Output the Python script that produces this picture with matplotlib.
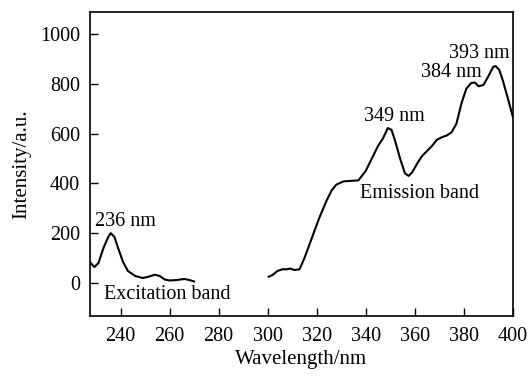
import numpy as np
import matplotlib.pyplot as plt

plt.rcParams['font.family'] = ['Liberation Serif', 'DejaVu Serif']

# --- Excitation band ---
ex_wl = [227.5, 229.3, 231, 233, 235, 236, 237.5, 239, 241, 243, 246, 249, 251, 254, 256, 258, 260, 263, 266, 268, 270]
ex_int = [84, 64, 80, 140, 185, 200, 185, 140, 85, 48, 28, 20, 24, 33, 28, 14, 10, 12, 16, 12, 6]

# --- Emission band ---
em_wl = [300.4, 302, 304, 306, 308, 309, 311, 313, 315, 318, 321, 324, 326, 328, 331, 334, 337, 340, 343,
         345, 347, 349, 350.5, 352, 354, 356, 357.5, 359, 361, 363, 365, 367, 369, 371, 373, 375, 377,
         379, 381, 383, 384.5, 386, 388, 390, 392, 393, 394.5, 396, 398, 400]
em_int = [25, 32, 48, 55, 55, 58, 52, 55, 100, 180, 260, 330, 370, 395, 408, 410, 412, 450, 510,
          550, 580, 622, 615, 570, 500, 440, 430, 445, 480, 510, 530, 550, 575, 585, 592, 605, 640,
          720, 780, 803, 805, 790, 795, 830, 868, 871, 855, 810, 740, 667]

# --- Peak labels ---
labels = ["236 nm", "349 nm", "384 nm", "393 nm"]
label_x = [242, 351.5, 375, 386.5]
label_y = [245, 667, 845, 923]

fig = plt.figure(figsize=(5.32, 3.76), dpi=100)
ax = fig.add_axes([0.169, 0.160, 0.795, 0.808])

ax.plot(ex_wl, ex_int, color='black', linewidth=1.5)
ax.plot(em_wl, em_int, color='black', linewidth=1.5)

for t, x, y in zip(labels, label_x, label_y):
    ax.text(x, y, t, ha='center', va='center', fontsize=14.5)

ax.text(259, -48, "Excitation band", ha='center', va='center', fontsize=14.5)
ax.text(362, 361, "Emission band", ha='center', va='center', fontsize=14.5)

ax.set_xlim(227.5, 400)
ax.set_ylim(-132, 1088)
ax.set_xticks(np.arange(240, 401, 20))
ax.set_yticks(np.arange(0, 1001, 200))
ax.tick_params(direction='in', length=6, width=1, labelsize=14.5, top=False, right=False)
ax.tick_params(axis='x', pad=8)
ax.tick_params(axis='y', pad=7)

ax.set_xlabel("Wavelength/nm", fontsize=15, labelpad=3)
ax.set_ylabel("Intensity/a.u.", fontsize=15, labelpad=6)

for s in ax.spines.values():
    s.set_linewidth(1.2)

fig.savefig("out.png", dpi=100)
